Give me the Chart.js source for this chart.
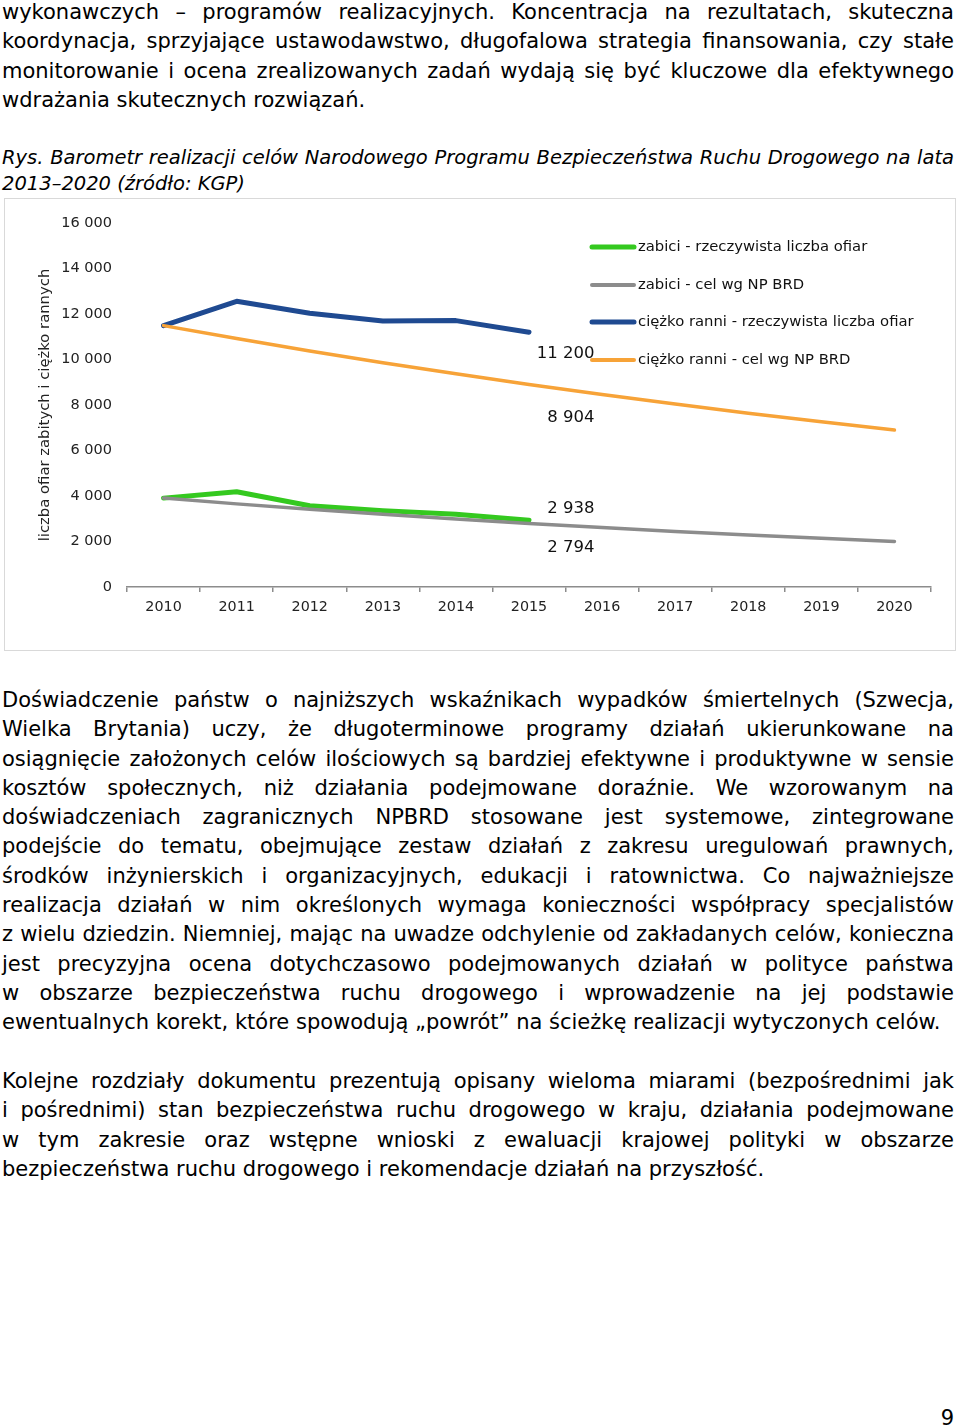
<!DOCTYPE html>
<html><head><meta charset="utf-8">
<script src="https://cdn.jsdelivr.net/npm/chart.js@4"></script>
<style>
html,body{margin:0;padding:0;background:#fff;}
body{width:960px;height:1428px;position:relative;overflow:hidden;font-family:"DejaVu Sans",Verdana,sans-serif;color:#000;}
.p{position:absolute;left:2px;width:952px;font-size:21px;line-height:29.3px;}
.p div{white-space:nowrap;}
.cap{font-style:italic;font-size:19.5px;line-height:26.4px;}
#box{position:absolute;left:4px;top:198px;width:950px;height:451px;border:1.5px solid #d9d9d9;}
#c{position:absolute;left:0;top:198px;}
#pg{position:absolute;right:6px;top:1404px;font-size:21px;line-height:29.3px;}
</style></head>
<body>
<div class="p" style="top:-1.9px">
<div><span class="j">wykonawczych – programów realizacyjnych. Koncentracja na rezultatach, skuteczna</span></div>
<div><span class="j">koordynacja, sprzyjające ustawodawstwo, długofalowa strategia finansowania, czy stałe</span></div>
<div><span class="j">monitorowanie i ocena zrealizowanych zadań wydają się być kluczowe dla efektywnego</span></div>
<div><span>wdrażania skutecznych rozwiązań.</span></div>
</div>
<div class="p cap" style="top:144.8px">
<div><span class="j">Rys. Barometr realizacji celów Narodowego Programu Bezpieczeństwa Ruchu Drogowego na lata</span></div>
<div><span>2013–2020 (źródło: KGP)</span></div>
</div>
<div id="box"></div>
<canvas id="c" width="960" height="456" style="width:960px;height:456px"></canvas>
<div class="p" style="top:686px">
<div><span class="j">Doświadczenie państw o najniższych wskaźnikach wypadków śmiertelnych (Szwecja,</span></div>
<div><span class="j">Wielka Brytania) uczy, że długoterminowe programy działań ukierunkowane na</span></div>
<div><span class="j">osiągnięcie założonych celów ilościowych są bardziej efektywne i produktywne w sensie</span></div>
<div><span class="j">kosztów społecznych, niż działania podejmowane doraźnie. We wzorowanym na</span></div>
<div><span class="j">doświadczeniach zagranicznych NPBRD stosowane jest systemowe, zintegrowane</span></div>
<div><span class="j">podejście do tematu, obejmujące zestaw działań z zakresu uregulowań prawnych,</span></div>
<div><span class="j">środków inżynierskich i organizacyjnych, edukacji i ratownictwa. Co najważniejsze</span></div>
<div><span class="j">realizacja działań w nim określonych wymaga konieczności współpracy specjalistów</span></div>
<div><span class="j">z wielu dziedzin. Niemniej, mając na uwadze odchylenie od zakładanych celów, konieczna</span></div>
<div><span class="j">jest precyzyjna ocena dotychczasowo podejmowanych działań w polityce państwa</span></div>
<div><span class="j">w obszarze bezpieczeństwa ruchu drogowego i wprowadzenie na jej podstawie</span></div>
<div><span>ewentualnych korekt, które spowodują „powrót” na ścieżkę realizacji wytyczonych celów.</span></div>
</div>
<div class="p" style="top:1067px">
<div><span class="j">Kolejne rozdziały dokumentu prezentują opisany wieloma miarami (bezpośrednimi jak</span></div>
<div><span class="j">i pośrednimi) stan bezpieczeństwa ruchu drogowego w kraju, działania podejmowane</span></div>
<div><span class="j">w tym zakresie oraz wstępne wnioski z ewaluacji krajowej polityki w obszarze</span></div>
<div><span>bezpieczeństwa ruchu drogowego i rekomendacje działań na przyszłość.</span></div>
</div>
<div id="pg">9</div>
<script>
// ---- data ----
const years = ['2010','2011','2012','2013','2014','2015','2016','2017','2018','2019','2020'];
const killedActual   = [3907, 4189, 3571, 3357, 3202, 2938];
const killedTarget   = [3907, 3654, 3417, 3196, 2989, 2794, 2614, 2444, 2286, 2138, 2000];
const injuredActual  = [11490, 12560, 12030, 11690, 11710, 11200];
const injuredTarget  = [11490, 10919, 10376, 9860, 9370, 8904, 8461, 8041, 7641, 7261, 6900];
const seriesNames = ['zabici - rzeczywista liczba ofiar','zabici - cel wg NP BRD','ciężko ranni - rzeczywista liczba ofiar','ciężko ranni - cel wg NP BRD'];
const yAxisTitle = 'liczba ofiar zabitych i ciężko rannych';
const yMin = 0, yMax = 16000, yStep = 2000;
const labelledYear = '2015';

// justify lines
function justify(){
  document.querySelectorAll('.j').forEach(el=>{
    el.style.wordSpacing='0px';
    const w = el.getBoundingClientRect().width;
    const n = (el.textContent.match(/ /g)||[]).length;
    if(n>0) el.style.wordSpacing = ((952 - w)/n) + 'px';
  });
}
justify();
if (document.fonts && document.fonts.ready) document.fonts.ready.then(justify);

const fmt = v => String(v).replace(/\B(?=(\d{3})+(?!\d))/g,' ');
const FONT = '"DejaVu Sans", Verdana, sans-serif';

const overlay = {
  id:'overlay',
  afterDatasetsDraw(chart){
    const {ctx, scales:{x,y}} = chart;
    ctx.save();
    const idx = years.indexOf(labelledYear);
    const px = x.getPixelForValue(idx) + 65.5;
    ctx.font = '16.5px ' + FONT;
    ctx.fillStyle = '#111';
    ctx.textAlign = 'right';
    ctx.textBaseline = 'middle';
    chart.data.datasets.forEach(ds=>{
      const v = ds.data[idx];
      ctx.fillText(fmt(v), px, y.getPixelForValue(v) + ds.labelDy);
    });
    // legend
    const legY = [49, 87, 124, 162];
    ctx.textAlign = 'left';
    ctx.font = '14.8px ' + FONT;
    chart.data.datasets.forEach((ds,i)=>{
      ctx.strokeStyle = ds.borderColor;
      ctx.lineWidth = ds.legendWidth;
      ctx.lineCap = 'round';
      ctx.beginPath();
      ctx.moveTo(592, legY[i]); ctx.lineTo(634, legY[i]);
      ctx.stroke();
      ctx.fillStyle = '#111';
      ctx.fillText(ds.label, 638, legY[i]);
    });
    ctx.restore();
  }
};

new Chart(document.getElementById('c'), {
  type:'line',
  data:{
    labels: years,
    datasets:[
      {label:seriesNames[0], data:killedActual, borderColor:'#34c91f', borderWidth:5, order:3, labelDy:-11.5, legendWidth:5},
      {label:seriesNames[1], data:killedTarget, borderColor:'#8c8c8c', borderWidth:3.5, order:1, labelDy:24.5, legendWidth:4},
      {label:seriesNames[2], data:injuredActual, borderColor:'#1f4a91', borderWidth:5, order:2, labelDy:21.5, legendWidth:5},
      {label:seriesNames[3], data:injuredTarget, borderColor:'#f7a338', borderWidth:3.5, order:0, labelDy:33, legendWidth:4}
    ]
  },
  options:{
    responsive:false,
    devicePixelRatio:1,
    animation:false,
    layout:{padding:{left:0, right:29, top:25, bottom:0}},
    elements:{
      point:{radius:0, hoverRadius:0},
      line:{tension:0, borderCapStyle:'round', borderJoinStyle:'round', fill:false}
    },
    plugins:{legend:{display:false}, tooltip:{enabled:false}},
    scales:{
      x:{
        offset:true,
        afterFit: s => { s.height = 67; },
        grid:{display:true, drawOnChartArea:false, offset:true, tickLength:5, color:'#8c8c8c', lineWidth:1.5},
        border:{display:true, color:'#8c8c8c', width:1.5},
        ticks:{font:{family:FONT, size:14.3}, color:'#222', padding:6.5, maxRotation:0}
      },
      y:{
        min:yMin, max:yMax,
        afterFit: s => { s.width = 127; },
        grid:{display:false, drawTicks:false},
        border:{display:false},
        ticks:{stepSize:yStep, font:{family:FONT, size:14.5}, color:'#222', padding:15, callback:v=>fmt(v)},
        title:{display:true, text:yAxisTitle, font:{family:FONT, size:14.8}, color:'#222', padding:{top:36, bottom:0}}
      }
    }
  },
  plugins:[overlay]
});
</script>
</body></html>
